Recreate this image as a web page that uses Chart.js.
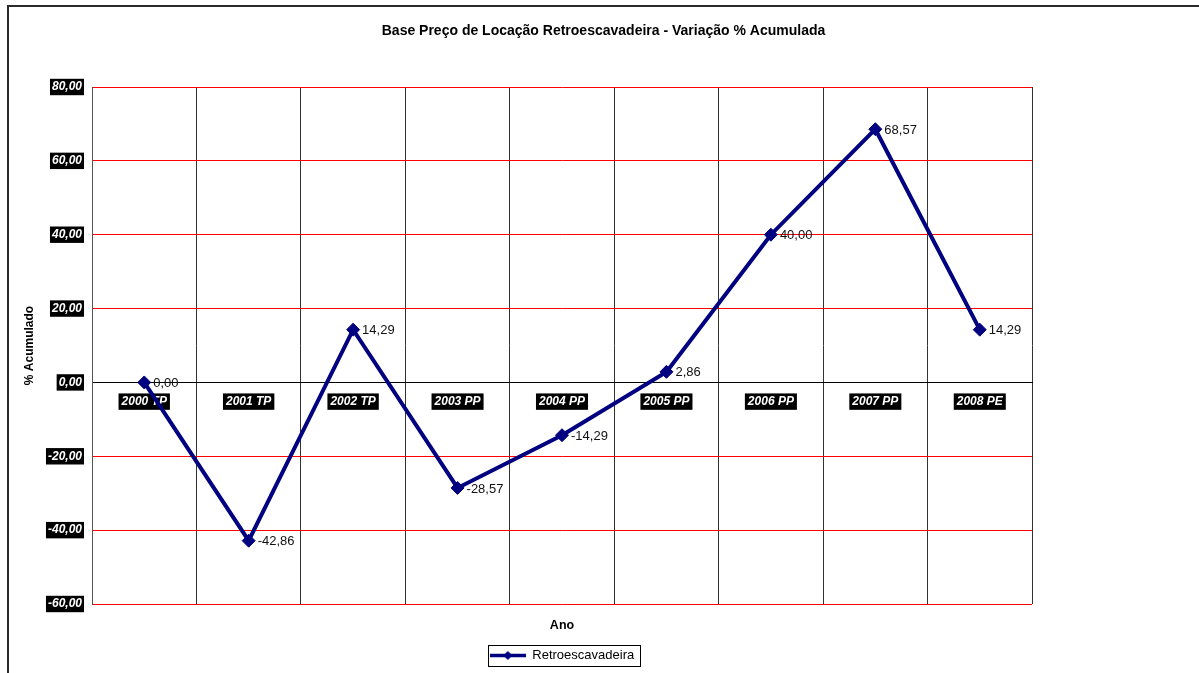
<!DOCTYPE html>
<html lang="pt-BR">
<head>
<meta charset="utf-8">
<title>Retroescavadeira - Variação % Acumulada</title>
<script src="https://cdn.jsdelivr.net/npm/chart.js@4.4.1/dist/chart.umd.min.js"></script>
<style>
  html, body { margin: 0; padding: 0; background: #fff; }
  #moldura {
    position: absolute; left: 7px; top: 5px; right: 0; bottom: 0;
    border-left: 2px solid #2b2b2b; border-top: 2px solid #2b2b2b;
  }
  #grafico { position: absolute; left: 0; top: 0; }
</style>
</head>
<body>
<div id="moldura"></div>
<canvas id="grafico" width="1199" height="673"></canvas>
<script>
// Anos e variação acumulada (%) do preço de locação
const anos = ["2000 TP", "2001 TP", "2002 TP", "2003 PP", "2004 PP", "2005 PP", "2006 PP", "2007 PP", "2008 PE"];
const variacao = [0.00, -42.86, 14.29, -28.57, -14.29, 2.86, 40.00, 68.57, 14.29];

// eixo Y
const yMin = -60;
const yMax = 80;
const yPasso = 20;

const fonte = '"Liberation Sans", Arial, sans-serif';
const azul = '#000080';

function formata(v) {
  return v.toFixed(2).replace('.', ',');
}

// marcador da legenda: linha com losango
const marcadorLegenda = document.createElement('canvas');
marcadorLegenda.width = 36;
marcadorLegenda.height = 13;
(function () {
  const c = marcadorLegenda.getContext('2d');
  c.strokeStyle = azul;
  c.lineWidth = 3.5;
  c.beginPath(); c.moveTo(0, 6.5); c.lineTo(36, 6.5); c.stroke();
  c.fillStyle = azul;
  c.beginPath();
  c.moveTo(18, 2); c.lineTo(22.5, 6.5); c.lineTo(18, 11); c.lineTo(13.5, 6.5);
  c.closePath(); c.fill();
})();

// rótulos de valor à direita de cada ponto
const rotulosValores = {
  id: 'rotulosValores',
  afterDatasetsDraw(chart) {
    const ctx = chart.ctx;
    const meta = chart.getDatasetMeta(0);
    ctx.save();
    ctx.font = '13px ' + fonte;
    ctx.fillStyle = '#111';
    ctx.textAlign = 'left';
    ctx.textBaseline = 'middle';
    meta.data.forEach((pt, i) => {
      ctx.fillText(formata(variacao[i]), pt.x + 9, pt.y + 1);
    });
    ctx.restore();
  }
};

// caixa em volta da legenda
const caixaLegenda = {
  id: 'caixaLegenda',
  afterDraw(chart) {
    const boxes = chart.legend && chart.legend.legendHitBoxes;
    if (!boxes || !boxes.length) return;
    const b = boxes[0];
    const ctx = chart.ctx;
    ctx.save();
    ctx.strokeStyle = '#000';
    ctx.lineWidth = 1;
    ctx.strokeRect(Math.round(b.left - 2) + 0.5, Math.round(b.top - 4) + 0.5,
      Math.round(b.width + 8), Math.round(b.height + 8));
    ctx.restore();
  }
};

new Chart(document.getElementById('grafico'), {
  type: 'line',
  data: {
    labels: anos,
    datasets: [{
      label: 'Retroescavadeira',
      data: variacao,
      borderColor: azul,
      backgroundColor: azul,
      borderWidth: 4,
      pointStyle: 'rectRot',
      pointRadius: 6.5,
      pointHoverRadius: 6.5,
      pointBorderWidth: 1,
      pointBackgroundColor: azul,
      pointBorderColor: azul,
      tension: 0,
      xAxisID: 'x',
      yAxisID: 'y'
    }]
  },
  options: {
    responsive: false,
    animation: false,
    layout: { padding: { left: 8, top: 0, right: 0, bottom: 1 } },
    plugins: {
      title: {
        display: true,
        text: 'Base Preço de Locação Retroescavadeira - Variação % Acumulada',
        color: '#000',
        font: { family: fonte, size: 14, weight: 'bold' },
        padding: { top: 22.6, bottom: 47.6 }
      },
      legend: {
        position: 'bottom',
        fullSize: false,
        labels: {
          usePointStyle: true,
          pointStyle: marcadorLegenda,
          pointStyleWidth: 36,
          color: '#000',
          font: { family: fonte, size: 13 },
          padding: 6
        }
      },
      tooltip: { enabled: false }
    },
    scales: {
      x: {
        type: 'category',
        position: 'bottom',
        offset: true,
        grid: { offset: true, color: '#333', lineWidth: 1, drawTicks: false },
        border: { display: false },
        ticks: { display: false },
        title: {
          display: true,
          text: 'Ano',
          color: '#000',
          font: { family: fonte, size: 12.5, weight: 'bold' },
          padding: { top: 4, bottom: 9.5 }
        },
        afterFit(s) { s.height = 39; }
      },
      xAnos: {
        type: 'category',
        position: { y: 0 },
        offset: true,
        grid: { display: false },
        border: { color: '#000', width: 1 },
        ticks: {
          color: '#fff',
          font: { family: fonte, size: 12, weight: 'bold', style: 'italic' },
          padding: 4,
          autoSkip: false,
          maxRotation: 0,
          showLabelBackdrop: true,
          backdropColor: '#000',
          backdropPadding: { x: 3, y: 1 }
        }
      },
      y: {
        type: 'linear',
        position: 'left',
        min: yMin,
        max: yMax,
        grid: {
          color: (c) => (c.tick && c.tick.value === 0 ? '#000' : '#ff0000'),
          lineWidth: 1,
          drawTicks: false
        },
        border: { color: '#555', width: 1 },
        ticks: {
          stepSize: yPasso,
          padding: 10,
          color: '#fff',
          font: { family: fonte, size: 12, weight: 'bold', style: 'italic' },
          showLabelBackdrop: true,
          backdropColor: '#000',
          backdropPadding: { x: 2, y: 1 },
          callback: (v) => formata(v)
        },
        title: {
          display: true,
          text: '% Acumulado',
          color: '#000',
          font: { family: fonte, size: 12, weight: 'bold' },
          padding: { top: 14.8, bottom: 4 }
        },
        afterFit(s) { s.width = 84; }
      },
      // espaço vazio à direita da área de plotagem
      yDireita: {
        type: 'linear',
        position: 'right',
        grid: { display: false },
        border: { display: false },
        ticks: { display: false },
        afterFit(s) { s.width = 167; }
      }
    }
  },
  plugins: [rotulosValores, caixaLegenda]
});
</script>
</body>
</html>
